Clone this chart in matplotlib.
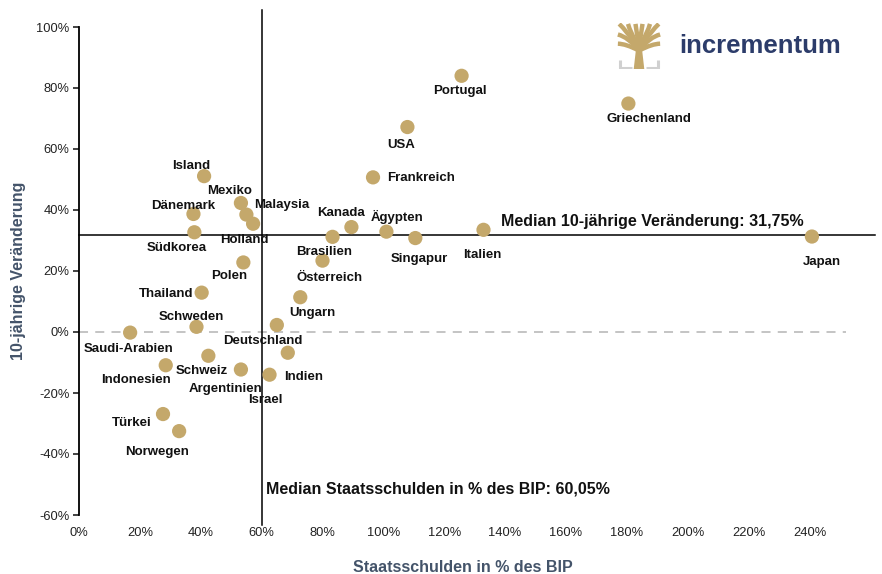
import matplotlib.pyplot as plt
from matplotlib.path import Path
from matplotlib.patches import PathPatch, Polygon

plt.rcParams['font.family'] = ['Liberation Sans', 'DejaVu Sans']

# Data (debt in % of GDP, 10-year change in %)
countries = ['Portugal', 'Griechenland', 'USA', 'Frankreich', 'Island', 'Mexiko',
             'Malaysia', 'Holland', 'Dänemark', 'Südkorea', 'Kanada', 'Brasilien',
             'Ägypten', 'Singapur', 'Italien', 'Japan', 'Polen', 'Österreich',
             'Thailand', 'Ungarn', 'Schweden', 'Deutschland', 'Saudi-Arabien',
             'Indonesien', 'Schweiz', 'Argentinien', 'Indien', 'Israel', 'Türkei',
             'Norwegen']
debt = [125.7, 180.5, 107.9, 96.6, 41.1, 53.2, 55.0, 57.2, 37.6, 37.9, 89.5, 83.3,
        101.0, 110.5, 132.9, 240.8, 54.0, 80.0, 40.3, 72.7, 38.6, 65.0, 16.8, 28.5,
        42.5, 53.2, 68.6, 62.6, 27.6, 32.9]
change = [84.0, 74.9, 67.2, 50.7, 51.1, 42.3, 38.5, 35.5, 38.7, 32.7, 34.4, 31.2,
          32.9, 30.8, 33.5, 31.3, 22.8, 23.4, 12.9, 11.4, 1.7, 2.3, -0.2, -10.9,
          -7.8, -12.3, -6.8, -14.0, -26.9, -32.5]
# label offsets in pixels (dx, dy) from each dot
label_dx = [-2, 21, -6, 48, -13, -11, 35, -9, -10, -18, -10, -8, 11, 4, -1, 10,
            -14, 7, -36, 12, -5, -14, -2, -30, -7, -15, 16, -4, -31, -22]
label_dy = [-15, -15, -18, -1, 10, 12, 10, -16, 8, -16, 14, -15, 15, -21, -25, -25,
            -14, -17, -1, -16, 10, -16, -16, -15, -15, -19, -24, -25, -9, -21]

median_debt = 60.05
median_change = 31.75
xticks = list(range(0, 241, 20))
yticks = list(range(-60, 101, 20))

gold = '#C4A86B'
axis_blue = '#44546A'

fig = plt.figure(figsize=(8.82, 5.74), dpi=100)
ax = fig.add_axes([79 / 882, 1 - 515 / 574, (846 - 79) / 882, 488 / 574])
ax.set_xlim(0, 252)
ax.set_ylim(-60, 100)

ax.axhline(0, color='#BFBFBF', lw=1.3, ls=(0, (5, 4)), zorder=1)
ax.plot([0, 261.5], [median_change, median_change], color='black', lw=1.1,
        clip_on=False, zorder=2)
ax.plot([median_debt, median_debt], [-63.3, 105.6], color='black', lw=1.1,
        clip_on=False, zorder=2)

ax.scatter(debt, change, s=105, color=gold, edgecolors='none', zorder=3)
for name, x, y, dx, dy in zip(countries, debt, change, label_dx, label_dy):
    ax.annotate(name, (x, y), xytext=(dx, dy), textcoords='offset pixels',
                ha='center', va='center', fontsize=9.5, fontweight='bold',
                color='#111111', zorder=4)

ax.text(median_debt + 1.4, -51.5, 'Median Staatsschulden in % des BIP: 60,05%',
        ha='left', va='center', fontsize=11.5, fontweight='bold', color='#111111')
ax.text(138.5, median_change + 4.6, 'Median 10-jährige Veränderung: 31,75%',
        ha='left', va='center', fontsize=11.5, fontweight='bold', color='#111111',
        clip_on=False)

for side in ['top', 'right', 'bottom']:
    ax.spines[side].set_visible(False)
ax.spines['left'].set_linewidth(1.3)
ax.set_xticks(xticks)
ax.set_xticklabels([f'{t}%' for t in xticks])
ax.set_yticks(yticks)
ax.set_yticklabels([f'{t}%' for t in yticks])
ax.tick_params(axis='x', length=0, pad=9, labelsize=9.3, colors='#222222')
ax.tick_params(axis='y', length=4, width=1.2, pad=3, labelsize=9.3, colors='#222222')

ax.set_xlabel('Staatsschulden in % des BIP', fontsize=11.5, fontweight='bold',
              color=axis_blue, labelpad=15)
ax.set_ylabel('10-jährige Veränderung', fontsize=11.5, fontweight='bold',
              color=axis_blue, labelpad=7)

# logo: stylised tree icon
lax = fig.add_axes([617 / 882, 1 - 69 / 574, 44 / 882, 46 / 574])
lax.set_xlim(0, 1)
lax.set_ylim(0, 1)
lax.axis('off')
lax.add_patch(Polygon([(0.38, 0.0), (0.62, 0.0), (0.57, 0.42), (0.43, 0.42)],
                      closed=True, color=gold, lw=0))
branches = [((0.5, 0.4), (0.2, 0.55), (0.02, 0.55)),
            ((0.5, 0.4), (0.25, 0.7), (0.02, 0.75)),
            ((0.5, 0.45), (0.2, 0.85), (0.05, 0.98)),
            ((0.5, 0.45), (0.3, 0.8), (0.25, 0.98)),
            ((0.5, 0.45), (0.45, 0.8), (0.42, 0.98)),
            ((0.5, 0.45), (0.55, 0.8), (0.58, 0.98)),
            ((0.5, 0.45), (0.7, 0.8), (0.75, 0.98)),
            ((0.5, 0.45), (0.8, 0.85), (0.95, 0.98)),
            ((0.5, 0.4), (0.75, 0.7), (0.98, 0.75)),
            ((0.5, 0.4), (0.8, 0.55), (0.98, 0.55))]
for p0, p1, p2 in branches:
    path = Path([p0, p1, p2], [Path.MOVETO, Path.CURVE3, Path.CURVE3])
    lax.add_patch(PathPatch(path, fill=False, edgecolor=gold, lw=3.2,
                            capstyle='butt'))
lax.plot([0.06, 0.06, 0.34], [0.2, 0.03, 0.03], color='#D0D0D0', lw=2.2,
         solid_capstyle='butt')
lax.plot([0.66, 0.94, 0.94], [0.03, 0.03, 0.2], color='#D0D0D0', lw=2.2,
         solid_capstyle='butt')

fig.text(679 / 882, 1 - 46 / 574, 'incrementum', ha='left', va='center',
         fontsize=18.5, fontweight='bold', color='#2C3C6A')

fig.savefig('out.png', dpi=100)
